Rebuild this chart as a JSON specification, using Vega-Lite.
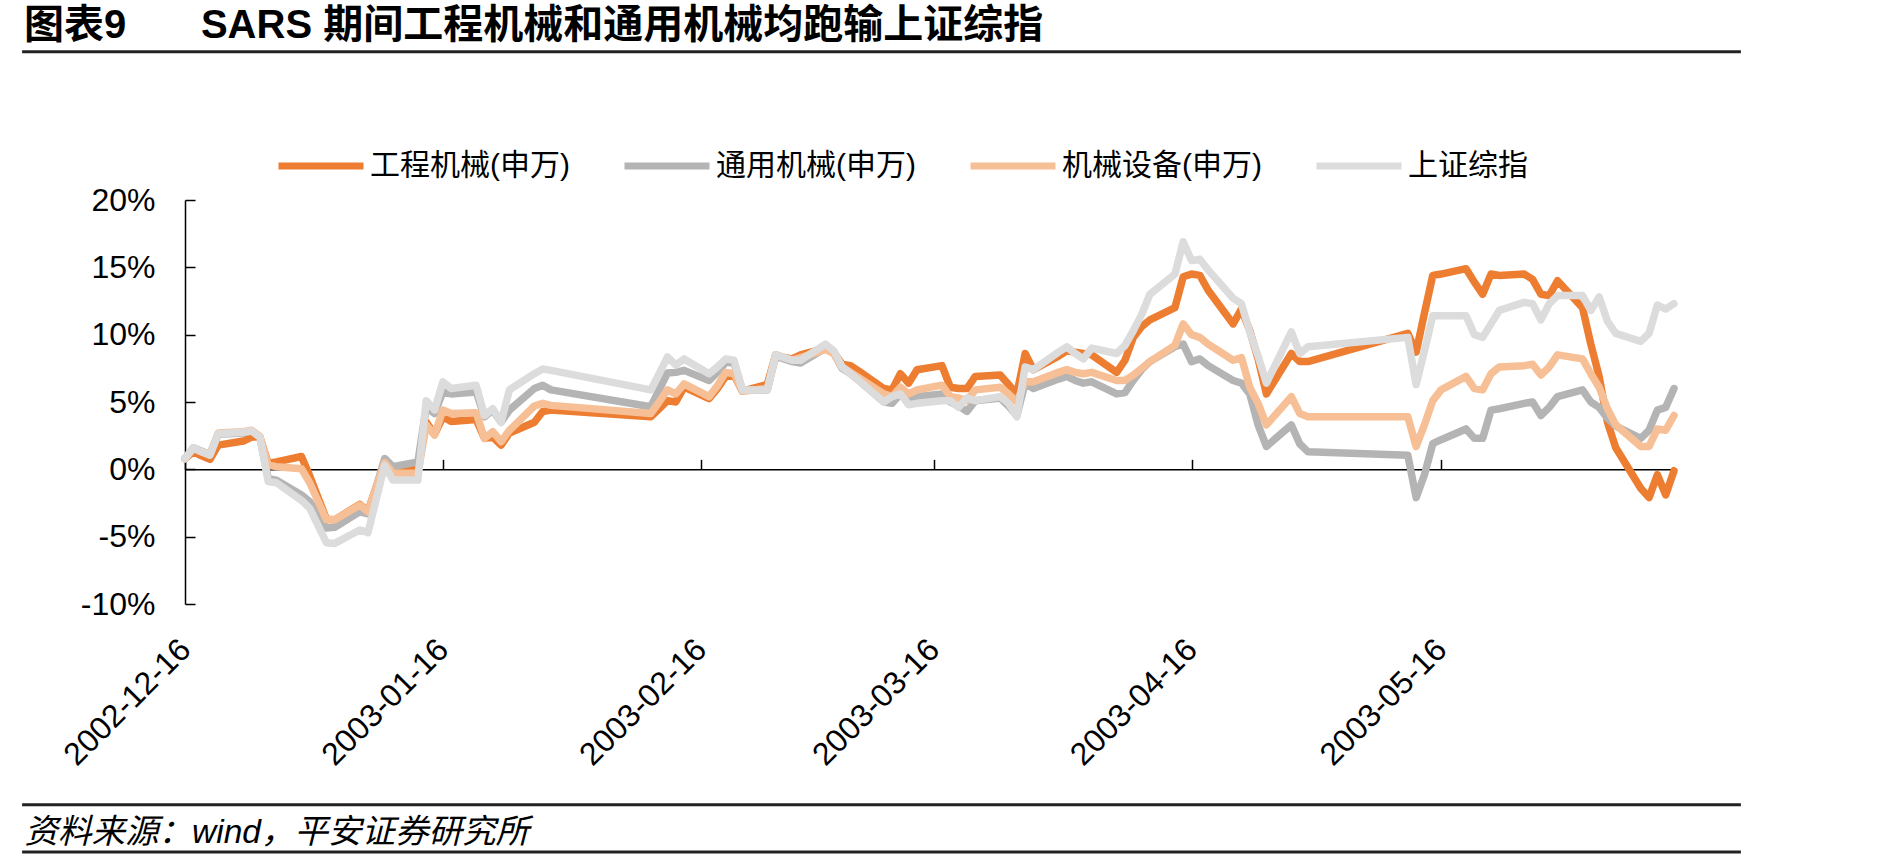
{
  "$schema": "https://vega.github.io/schema/vega-lite/v6.json",
  "width": 1489,
  "height": 404,
  "autosize": "none",
  "padding": {"left": 185, "top": 200, "right": 215, "bottom": 256},
  "background": "white",
  "title": {
    "text": "图表9\u00a0\u00a0\u00a0\u00a0\u00a0\u00a0\u2009SARS 期间工程机械和通用机械均跑输上证综指",
    "anchor": "start",
    "frame": "group",
    "dx": -161,
    "offset": 4,
    "font": "Liberation Sans, Noto Sans CJK SC",
    "fontSize": 40,
    "fontWeight": "bold",
    "color": "#000000"
  },
  "data": {
    "values": [
      {"date": "2002-12-16", "工程机械(申万)": 0.8, "通用机械(申万)": 0.8, "机械设备(申万)": 0.8, "上证综指": 0.8},
      {"date": "2002-12-17", "工程机械(申万)": 1.3, "通用机械(申万)": 1.6, "机械设备(申万)": 1.55, "上证综指": 1.6},
      {"date": "2002-12-18", "工程机械(申万)": 1.0, "通用机械(申万)": 1.35, "机械设备(申万)": 1.3, "上证综指": 1.3},
      {"date": "2002-12-19", "工程机械(申万)": 0.75, "通用机械(申万)": 1.1, "机械设备(申万)": 1.1, "上证综指": 1.05},
      {"date": "2002-12-20", "工程机械(申万)": 1.8, "通用机械(申万)": 2.6, "机械设备(申万)": 2.7, "上证综指": 2.65},
      {"date": "2002-12-23", "工程机械(申万)": 2.1, "通用机械(申万)": 2.7, "机械设备(申万)": 2.8, "上证综指": 2.75},
      {"date": "2002-12-24", "工程机械(申万)": 2.4, "通用机械(申万)": 2.85, "机械设备(申万)": 2.9, "上证综指": 2.85},
      {"date": "2002-12-25", "工程机械(申万)": 2.4, "通用机械(申万)": 2.4, "机械设备(申万)": 2.45, "上证综指": 2.4},
      {"date": "2002-12-26", "工程机械(申万)": 0.45, "通用机械(申万)": -0.7, "机械设备(申万)": 0.3, "上证综指": -0.9},
      {"date": "2002-12-27", "工程机械(申万)": 0.55, "通用机械(申万)": -0.8, "机械设备(申万)": 0.2, "上证综指": -1.0},
      {"date": "2002-12-30", "工程机械(申万)": 0.95, "通用机械(申万)": -1.9, "机械设备(申万)": 0.05, "上证综指": -2.3},
      {"date": "2002-12-31", "工程机械(申万)": -0.5, "通用机械(申万)": -2.4, "机械设备(申万)": -1.0, "上证综指": -2.9},
      {"date": "2003-01-02", "工程机械(申万)": -3.7, "通用机械(申万)": -4.35, "机械设备(申万)": -3.75, "上证综指": -5.45},
      {"date": "2003-01-03", "工程机械(申万)": -3.75, "通用机械(申万)": -4.3, "机械设备(申万)": -3.75, "上证综指": -5.5},
      {"date": "2003-01-06", "工程机械(申万)": -2.6, "通用机械(申万)": -3.15, "机械设备(申万)": -2.65, "上证综指": -4.5},
      {"date": "2003-01-07", "工程机械(申万)": -3.1, "通用机械(申万)": -3.3, "机械设备(申万)": -3.15, "上证综指": -4.7},
      {"date": "2003-01-08", "工程机械(申万)": -1.3, "通用机械(申万)": -1.3, "机械设备(申万)": -1.3, "上证综指": -2.2},
      {"date": "2003-01-09", "工程机械(申万)": 0.5, "通用机械(申万)": 0.8, "机械设备(申万)": 0.5, "上证综指": 0.3},
      {"date": "2003-01-10", "工程机械(申万)": -0.2, "通用机械(申万)": 0.2, "机械设备(申万)": -0.3, "上证综指": -0.8},
      {"date": "2003-01-13", "工程机械(申万)": 0.2, "通用机械(申万)": 0.55, "机械设备(申万)": -0.3, "上证综指": -0.8},
      {"date": "2003-01-14", "工程机械(申万)": 3.5, "通用机械(申万)": 4.6, "机械设备(申万)": 3.3, "上证综指": 5.1},
      {"date": "2003-01-15", "工程机械(申万)": 2.6, "通用机械(申万)": 4.15, "机械设备(申万)": 2.55, "上证综指": 4.4},
      {"date": "2003-01-16", "工程机械(申万)": 3.9, "通用机械(申万)": 5.75, "机械设备(申万)": 4.4, "上证综指": 6.5},
      {"date": "2003-01-17", "工程机械(申万)": 3.55, "通用机械(申万)": 5.6, "机械设备(申万)": 4.15, "上证综指": 6.0},
      {"date": "2003-01-20", "工程机械(申万)": 3.7, "通用机械(申万)": 5.75, "机械设备(申万)": 4.2, "上证综指": 6.25},
      {"date": "2003-01-21", "工程机械(申万)": 2.3, "通用机械(申万)": 3.9, "机械设备(申万)": 2.3, "上证综指": 4.0},
      {"date": "2003-01-22", "工程机械(申万)": 2.4, "通用机械(申万)": 4.4, "机械设备(申万)": 2.8, "上证综指": 4.5},
      {"date": "2003-01-23", "工程机械(申万)": 1.8, "通用机械(申万)": 3.5, "机械设备(申万)": 2.05, "上证综指": 3.5},
      {"date": "2003-01-24", "工程机械(申万)": 2.7, "通用机械(申万)": 4.4, "机械设备(申万)": 2.9, "上证综指": 5.9},
      {"date": "2003-01-27", "工程机械(申万)": 3.5, "通用机械(申万)": 6.0, "机械设备(申万)": 4.7, "上证综指": 7.1},
      {"date": "2003-01-28", "工程机械(申万)": 4.3, "通用机械(申万)": 6.25, "机械设备(申万)": 4.9, "上证综指": 7.45},
      {"date": "2003-01-29", "工程机械(申万)": 4.4, "通用机械(申万)": 5.9, "机械设备(申万)": 4.75, "上证综指": 7.35},
      {"date": "2003-02-10", "工程机械(申万)": 3.9, "通用机械(申万)": 4.65, "机械设备(申万)": 4.15, "上证综指": 5.9},
      {"date": "2003-02-11", "工程机械(申万)": 4.5, "通用机械(申万)": 5.9, "机械设备(申万)": 5.0, "上证综指": 7.1},
      {"date": "2003-02-12", "工程机械(申万)": 5.1, "通用机械(申万)": 7.15, "机械设备(申万)": 5.9, "上证综指": 8.35},
      {"date": "2003-02-13", "工程机械(申万)": 5.0, "通用机械(申万)": 7.2, "机械设备(申万)": 5.6, "上证综指": 7.75},
      {"date": "2003-02-14", "工程机械(申万)": 6.1, "通用机械(申万)": 7.35, "机械设备(申万)": 6.35, "上证综指": 8.2},
      {"date": "2003-02-17", "工程机械(申万)": 5.25, "通用机械(申万)": 6.6, "机械设备(申万)": 5.4, "上证综指": 7.1},
      {"date": "2003-02-18", "工程机械(申万)": 6.0, "通用机械(申万)": 7.2, "机械设备(申万)": 6.2, "上证综指": 7.6},
      {"date": "2003-02-19", "工程机械(申万)": 6.9, "通用机械(申万)": 7.95, "机械设备(申万)": 7.2, "上证综指": 8.2},
      {"date": "2003-02-20", "工程机械(申万)": 7.0, "通用机械(申万)": 7.9, "机械设备(申万)": 7.1, "上证综指": 8.1},
      {"date": "2003-02-21", "工程机械(申万)": 5.8, "通用机械(申万)": 5.9, "机械设备(申万)": 5.8, "上证综指": 5.9},
      {"date": "2003-02-24", "工程机械(申万)": 6.3, "通用机械(申万)": 5.9, "机械设备(申万)": 6.0, "上证综指": 5.9},
      {"date": "2003-02-25", "工程机械(申万)": 8.5, "通用机械(申万)": 8.4, "机械设备(申万)": 8.5, "上证综指": 8.5},
      {"date": "2003-02-26", "工程机械(申万)": 8.3, "通用机械(申万)": 8.2, "机械设备(申万)": 8.3, "上证综指": 8.3},
      {"date": "2003-02-27", "工程机械(申万)": 8.2, "通用机械(申万)": 8.0, "机械设备(申万)": 8.1, "上证综指": 8.1},
      {"date": "2003-02-28", "工程机械(申万)": 8.5, "通用机械(申万)": 7.9, "机械设备(申万)": 8.3, "上证综指": 8.1},
      {"date": "2003-03-03", "工程机械(申万)": 9.0, "通用机械(申万)": 9.0, "机械设备(申万)": 8.9, "上证综指": 9.3},
      {"date": "2003-03-04", "工程机械(申万)": 8.7, "通用机械(申万)": 8.6, "机械设备(申万)": 8.6, "上证综指": 8.8},
      {"date": "2003-03-05", "工程机械(申万)": 7.8, "通用机械(申万)": 7.5, "机械设备(申万)": 7.6, "上证综指": 7.6},
      {"date": "2003-03-06", "工程机械(申万)": 7.7, "通用机械(申万)": 7.1, "机械设备(申万)": 7.2, "上证综指": 7.1},
      {"date": "2003-03-07", "工程机械(申万)": 7.3, "通用机械(申万)": 6.6, "机械设备(申万)": 6.8, "上证综指": 6.6},
      {"date": "2003-03-10", "工程机械(申万)": 6.0, "通用机械(申万)": 5.0, "机械设备(申万)": 5.6, "上证综指": 5.0},
      {"date": "2003-03-11", "工程机械(申万)": 5.9, "通用机械(申万)": 4.9, "机械设备(申万)": 5.4, "上证综指": 5.4},
      {"date": "2003-03-12", "工程机械(申万)": 7.1, "通用机械(申万)": 5.6, "机械设备(申万)": 6.1, "上证综指": 5.6},
      {"date": "2003-03-13", "工程机械(申万)": 6.4, "通用机械(申万)": 5.2, "机械设备(申万)": 5.6, "上证综指": 4.8},
      {"date": "2003-03-14", "工程机械(申万)": 7.4, "通用机械(申万)": 5.4, "机械设备(申万)": 5.9, "上证综指": 4.9},
      {"date": "2003-03-17", "工程机械(申万)": 7.7, "通用机械(申万)": 5.6, "机械设备(申万)": 6.25, "上证综指": 5.1},
      {"date": "2003-03-18", "工程机械(申万)": 6.1, "通用机械(申万)": 5.0, "机械设备(申万)": 5.4, "上证综指": 5.1},
      {"date": "2003-03-19", "工程机械(申万)": 6.0, "通用机械(申万)": 4.7, "机械设备(申万)": 5.3, "上证综指": 4.6},
      {"date": "2003-03-20", "工程机械(申万)": 6.0, "通用机械(申万)": 4.3, "机械设备(申万)": 5.1, "上证综指": 5.3},
      {"date": "2003-03-21", "工程机械(申万)": 6.9, "通用机械(申万)": 5.1, "机械设备(申万)": 5.9, "上证综指": 5.1},
      {"date": "2003-03-24", "工程机械(申万)": 7.0, "通用机械(申万)": 5.3, "机械设备(申万)": 6.1, "上证综指": 5.4},
      {"date": "2003-03-25", "工程机械(申万)": 6.3, "通用机械(申万)": 4.7, "机械设备(申万)": 5.6, "上证综指": 4.9},
      {"date": "2003-03-26", "工程机械(申万)": 5.6, "通用机械(申万)": 4.0, "机械设备(申万)": 5.0, "上证综指": 3.9},
      {"date": "2003-03-27", "工程机械(申万)": 8.6, "通用机械(申万)": 6.4, "机械设备(申万)": 6.5, "上证综指": 7.6},
      {"date": "2003-03-28", "工程机械(申万)": 7.4, "通用机械(申万)": 6.0, "机械设备(申万)": 6.5, "上证综指": 7.4},
      {"date": "2003-03-31", "工程机械(申万)": 8.4, "通用机械(申万)": 6.7, "机械设备(申万)": 7.2, "上证综指": 8.7},
      {"date": "2003-04-01", "工程机械(申万)": 8.8, "通用机械(申万)": 6.9, "机械设备(申万)": 7.4, "上证综指": 9.1},
      {"date": "2003-04-02", "工程机械(申万)": 8.7, "通用机械(申万)": 6.6, "机械设备(申万)": 7.2, "上证综指": 8.6},
      {"date": "2003-04-03", "工程机械(申万)": 8.6, "通用机械(申万)": 6.4, "机械设备(申万)": 7.1, "上证综指": 8.2},
      {"date": "2003-04-04", "工程机械(申万)": 8.5, "通用机械(申万)": 6.5, "机械设备(申万)": 7.2, "上证综指": 9.0},
      {"date": "2003-04-07", "工程机械(申万)": 7.2, "通用机械(申万)": 5.6, "机械设备(申万)": 6.6, "上证综指": 8.6},
      {"date": "2003-04-08", "工程机械(申万)": 8.1, "通用机械(申万)": 5.7, "机械设备(申万)": 6.6, "上证综指": 9.2},
      {"date": "2003-04-09", "工程机械(申万)": 9.8, "通用机械(申万)": 6.6, "机械设备(申万)": 7.0, "上证综指": 10.3},
      {"date": "2003-04-10", "工程机械(申万)": 10.6, "通用机械(申万)": 7.4, "机械设备(申万)": 7.5, "上证综指": 11.5},
      {"date": "2003-04-11", "工程机械(申万)": 11.1, "通用机械(申万)": 8.0, "机械设备(申万)": 8.0, "上证综指": 13.0},
      {"date": "2003-04-14", "工程机械(申万)": 12.0, "通用机械(申万)": 9.1, "机械设备(申万)": 9.2, "上证综指": 14.5},
      {"date": "2003-04-15", "工程机械(申万)": 14.3, "通用机械(申万)": 9.3, "机械设备(申万)": 10.8, "上证综指": 16.9},
      {"date": "2003-04-16", "工程机械(申万)": 14.5, "通用机械(申万)": 8.0, "机械设备(申万)": 10.0, "上证综指": 15.5},
      {"date": "2003-04-17", "工程机械(申万)": 14.4, "通用机械(申万)": 8.2, "机械设备(申万)": 9.8, "上证综指": 15.6},
      {"date": "2003-04-18", "工程机械(申万)": 13.3, "通用机械(申万)": 7.7, "机械设备(申万)": 9.3, "上证综指": 14.8},
      {"date": "2003-04-21", "工程机械(申万)": 10.8, "通用机械(申万)": 6.6, "机械设备(申万)": 8.1, "上证综指": 12.7},
      {"date": "2003-04-22", "工程机械(申万)": 11.9, "通用机械(申万)": 6.4, "机械设备(申万)": 8.3, "上证综指": 12.3},
      {"date": "2003-04-23", "工程机械(申万)": 10.3, "通用机械(申万)": 5.6, "机械设备(申万)": 6.1, "上证综指": 10.2},
      {"date": "2003-04-24", "工程机械(申万)": 8.2, "通用机械(申万)": 3.3, "机械设备(申万)": 4.9, "上证综指": 8.4},
      {"date": "2003-04-25", "工程机械(申万)": 5.6, "通用机械(申万)": 1.7, "机械设备(申万)": 3.3, "上证综指": 6.4},
      {"date": "2003-04-28", "工程机械(申万)": 8.6, "通用机械(申万)": 3.3, "机械设备(申万)": 5.4, "上证综指": 10.2},
      {"date": "2003-04-29", "工程机械(申万)": 8.0, "通用机械(申万)": 1.9, "机械设备(申万)": 4.15, "上证综指": 8.6},
      {"date": "2003-04-30", "工程机械(申万)": 8.0, "通用机械(申万)": 1.3, "机械设备(申万)": 3.9, "上证综指": 9.1},
      {"date": "2003-05-12", "工程机械(申万)": 10.1, "通用机械(申万)": 1.05, "机械设备(申万)": 3.9, "上证综指": 9.8},
      {"date": "2003-05-13", "工程机械(申万)": 8.7, "通用机械(申万)": -2.1, "机械设备(申万)": 1.7, "上证综指": 6.3},
      {"date": "2003-05-14", "工程机械(申万)": 11.6, "通用机械(申万)": -0.4, "机械设备(申万)": 3.3, "上证综指": 8.8},
      {"date": "2003-05-15", "工程机械(申万)": 14.4, "通用机械(申万)": 1.9, "机械设备(申万)": 5.1, "上证综指": 11.4},
      {"date": "2003-05-16", "工程机械(申万)": 14.5, "通用机械(申万)": 2.2, "机械设备(申万)": 5.9, "上证综指": 11.4},
      {"date": "2003-05-19", "工程机械(申万)": 14.9, "通用机械(申万)": 3.0, "机械设备(申万)": 6.9, "上证综指": 11.4},
      {"date": "2003-05-20", "工程机械(申万)": 13.9, "通用机械(申万)": 2.3, "机械设备(申万)": 6.0, "上证综指": 10.0},
      {"date": "2003-05-21", "工程机械(申万)": 13.0, "通用机械(申万)": 2.3, "机械设备(申万)": 5.9, "上证综指": 9.8},
      {"date": "2003-05-22", "工程机械(申万)": 14.5, "通用机械(申万)": 4.4, "机械设备(申万)": 7.1, "上证综指": 10.8},
      {"date": "2003-05-23", "工程机械(申万)": 14.4, "通用机械(申万)": 4.5, "机械设备(申万)": 7.6, "上证综指": 11.8},
      {"date": "2003-05-26", "工程机械(申万)": 14.5, "通用机械(申万)": 4.9, "机械设备(申万)": 7.7, "上证综指": 12.4},
      {"date": "2003-05-27", "工程机械(申万)": 14.1, "通用机械(申万)": 5.0, "机械设备(申万)": 7.8, "上证综指": 12.3},
      {"date": "2003-05-28", "工程机械(申万)": 13.0, "通用机械(申万)": 4.0, "机械设备(申万)": 7.0, "上证综指": 11.1},
      {"date": "2003-05-29", "工程机械(申万)": 12.9, "通用机械(申万)": 4.6, "机械设备(申万)": 7.6, "上证综指": 12.3},
      {"date": "2003-05-30", "工程机械(申万)": 14.0, "通用机械(申万)": 5.4, "机械设备(申万)": 8.5, "上证综指": 12.9},
      {"date": "2003-06-02", "工程机械(申万)": 12.0, "通用机械(申万)": 5.9, "机械设备(申万)": 8.2, "上证综指": 12.9},
      {"date": "2003-06-03", "工程机械(申万)": 9.3, "通用机械(申万)": 5.0, "机械设备(申万)": 7.1, "上证综指": 11.8},
      {"date": "2003-06-04", "工程机械(申万)": 6.9, "通用机械(申万)": 4.6, "机械设备(申万)": 6.1, "上证综指": 12.8},
      {"date": "2003-06-05", "工程机械(申万)": 3.5, "通用机械(申万)": 3.8, "机械设备(申万)": 4.5, "上证综指": 11.0},
      {"date": "2003-06-06", "工程机械(申万)": 1.6, "通用机械(申万)": 3.2, "机械设备(申万)": 3.3, "上证综指": 10.1},
      {"date": "2003-06-09", "工程机械(申万)": -1.4, "通用机械(申万)": 2.3, "机械设备(申万)": 1.7, "上证综指": 9.5},
      {"date": "2003-06-10", "工程机械(申万)": -2.1, "通用机械(申万)": 2.9, "机械设备(申万)": 1.7, "上证综指": 10.1},
      {"date": "2003-06-11", "工程机械(申万)": -0.4, "通用机械(申万)": 4.4, "机械设备(申万)": 3.0, "上证综指": 12.2},
      {"date": "2003-06-12", "工程机械(申万)": -1.9, "通用机械(申万)": 4.6, "机械设备(申万)": 2.9, "上证综指": 11.9},
      {"date": "2003-06-13", "工程机械(申万)": -0.1, "通用机械(申万)": 6.0, "机械设备(申万)": 4.0, "上证综指": 12.3}
    ]
  },
  "resolve": {"axis": {"x": "independent"}},
  "layer": [
    {
      "transform": [
        {"fold": ["工程机械(申万)", "通用机械(申万)", "机械设备(申万)", "上证综指"], "as": ["series", "value"]}
      ],
      "mark": {"type": "line", "strokeWidth": 7.5, "strokeJoin": "round", "strokeCap": "round"},
      "encoding": {
        "x": {
          "field": "date",
          "type": "temporal",
          "scale": {
            "type": "utc",
            "domain": [
              {"year": 2002, "month": 12, "date": 16, "utc": true},
              {"year": 2003, "month": 6, "date": 13, "utc": true}
            ]
          },
          "axis": {
            "orient": "bottom",
            "values": [
              {"year": 2002, "month": 12, "date": 16, "utc": true},
              {"year": 2003, "month": 1, "date": 16, "utc": true},
              {"year": 2003, "month": 2, "date": 16, "utc": true},
              {"year": 2003, "month": 3, "date": 16, "utc": true},
              {"year": 2003, "month": 4, "date": 16, "utc": true},
              {"year": 2003, "month": 5, "date": 16, "utc": true}
            ],
            "labelExpr": "utcFormat(datum.value, '%Y-%m-%d')",
            "labelAngle": -45,
            "labelAlign": "right",
            "labelBaseline": "middle",
            "labelPadding": 40,
            "labelFont": "Liberation Sans",
            "labelFontSize": 32,
            "labelColor": "#000000",
            "labelOverlap": false,
            "labelFlush": false,
            "labelBound": false,
            "domain": false,
            "ticks": false,
            "grid": false,
            "title": "资料来源：wind，平安证券研究所",
            "titleFont": "Liberation Sans, Noto Sans CJK SC",
            "titleFontSize": 33.5,
            "titleFontStyle": "italic",
            "titleFontWeight": "normal",
            "titleColor": "#000000",
            "titleAlign": "left",
            "titleBaseline": "alphabetic",
            "titleX": -161,
            "titleY": 238
          }
        },
        "y": {
          "field": "value",
          "type": "quantitative",
          "scale": {"domain": [-10, 20], "nice": false, "zero": false},
          "axis": {
            "values": [-10, -5, 0, 5, 10, 15, 20],
            "labelExpr": "datum.value + '%'",
            "labelFont": "Liberation Sans",
            "labelFontSize": 32,
            "labelColor": "#000000",
            "labelPadding": 40,
            "domainColor": "#000000",
            "domainWidth": 1.5,
            "tickColor": "#000000",
            "tickWidth": 1.5,
            "tickSize": -10,
            "grid": false,
            "title": null
          }
        },
        "color": {
          "field": "series",
          "type": "nominal",
          "scale": {
            "domain": ["工程机械(申万)", "通用机械(申万)", "机械设备(申万)", "上证综指"],
            "range": ["#ED7D31", "#B4B4B4", "#F7BF95", "#DCDCDC"]
          },
          "legend": {
            "title": null,
            "orient": "none",
            "direction": "horizontal",
            "legendX": 90,
            "legendY": -80,
            "padding": 0,
            "symbolType": "stroke",
            "symbolSize": 7225,
            "symbolStrokeWidth": 7,
            "labelOffset": 3,
            "columnPadding": 40,
            "labelFont": "Liberation Sans, Noto Sans CJK SC",
            "labelFontSize": 30,
            "labelColor": "#000000",
            "labelLimit": 500
          }
        }
      }
    },
    {
      "data": {"values": [{}]},
      "mark": {"type": "rule", "color": "#222222", "strokeWidth": 3},
      "encoding": {
        "x": {
          "datum": {"year": 2002, "month": 11, "date": 26, "hours": 10, "utc": true},
          "type": "temporal",
          "axis": {
            "orient": "top",
            "offset": -269.33,
            "values": [
              {"year": 2002, "month": 12, "date": 16, "utc": true},
              {"year": 2003, "month": 1, "date": 16, "utc": true},
              {"year": 2003, "month": 2, "date": 16, "utc": true},
              {"year": 2003, "month": 3, "date": 16, "utc": true},
              {"year": 2003, "month": 4, "date": 16, "utc": true},
              {"year": 2003, "month": 5, "date": 16, "utc": true}
            ],
            "labels": false,
            "grid": false,
            "domainColor": "#000000",
            "domainWidth": 1.5,
            "tickColor": "#000000",
            "tickWidth": 1.5,
            "tickSize": 10,
            "title": null
          }
        },
        "x2": {"datum": {"year": 2003, "month": 6, "date": 21, "hours": 1, "utc": true}},
        "y": {"datum": 31}
      }
    },
    {
      "data": {"values": [{}]},
      "mark": {"type": "rule", "color": "#222222", "strokeWidth": 3},
      "encoding": {
        "x": {"datum": {"year": 2002, "month": 11, "date": 26, "hours": 10, "utc": true}, "type": "temporal", "axis": null},
        "x2": {"datum": {"year": 2003, "month": 6, "date": 21, "hours": 1, "utc": true}},
        "y": {"datum": -24.9}
      }
    },
    {
      "data": {"values": [{}]},
      "mark": {"type": "rule", "color": "#222222", "strokeWidth": 3},
      "encoding": {
        "x": {"datum": {"year": 2002, "month": 11, "date": 26, "hours": 10, "utc": true}, "type": "temporal", "axis": null},
        "x2": {"datum": {"year": 2003, "month": 6, "date": 21, "hours": 1, "utc": true}},
        "y": {"datum": -28.42}
      }
    }
  ],
  "config": {
    "view": {"stroke": null},
    "font": "Liberation Sans"
  }
}
